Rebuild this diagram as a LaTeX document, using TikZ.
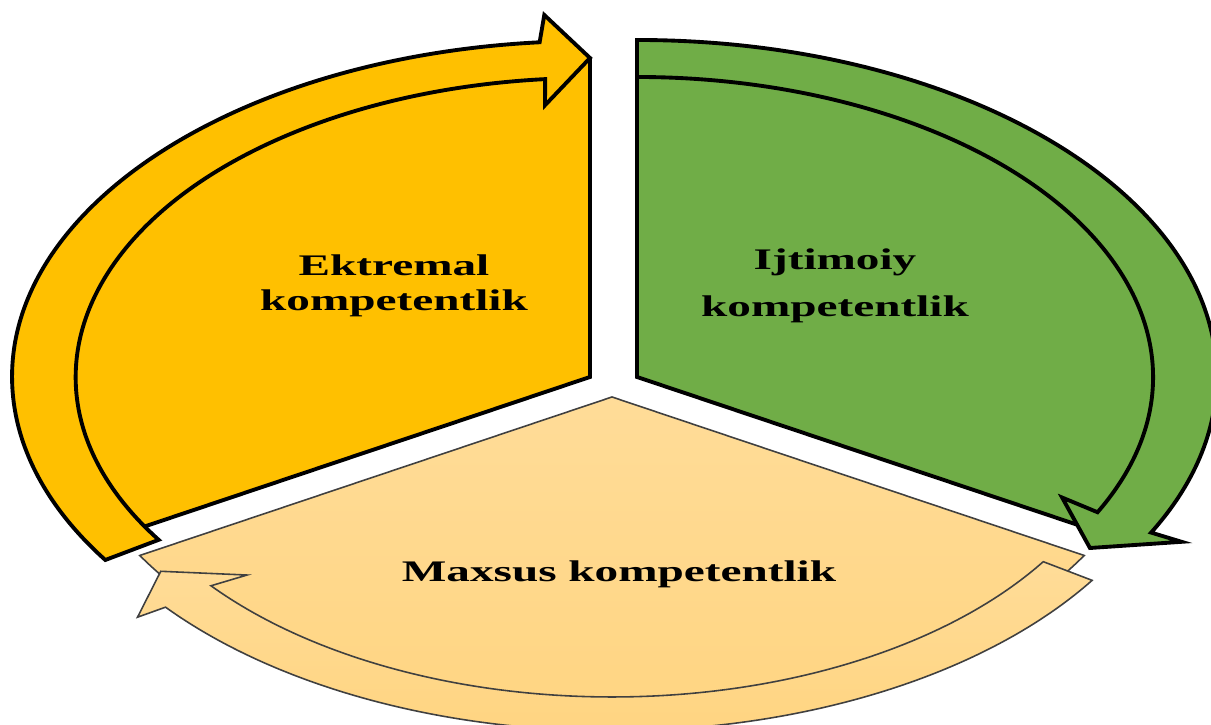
\documentclass[tikz,border=0pt]{standalone}
\usepackage{fontspec}
\newfontfamily\cyclefont{Liberation Serif}[FakeStretch=1.58]
\usepackage{tikz}
\usetikzlibrary{positioning}
\definecolor{ekgold}{HTML}{FFC000}
\definecolor{ijgreen}{HTML}{70AD47}
\definecolor{mxtop}{HTML}{FFDC98}
\definecolor{mxbottom}{HTML}{FFD47F}

\begin{document}
\begin{tikzpicture}[x=0.01cm,y=0.01cm,
  thickpart/.style={draw=black,line width=1.1pt},
  thinpart/.style={draw=black!75,line width=0.45pt,top color=mxtop,bottom color=mxbottom},
  every node/.style={font=\cyclefont\bfseries\fontsize{8.5}{10}\selectfont,align=center,inner sep=0pt}]
\useasboundingbox (0,0) rectangle (1211,725);
\coordinate (yapex) at (590,348);
\coordinate (gapex) at (637,348);
\coordinate (lapex) at (612,328);

% ektremal
\begin{scope}[shift={(yapex)},xscale=1.72]
  \draw[thickpart,fill=ekgold] (0,0) -- (210:317) arc[start angle=210,end angle=90,radius=317] -- cycle;
  \draw[thickpart,fill=ekgold] (213:299) arc[start angle=213,end angle=95,radius=299]
    -- (95.5:273) -- (90:319) -- (94.2:363) -- (95:336)
    arc[start angle=95,end angle=213,radius=336] -- cycle;
\end{scope}

% ijtimoiy
\begin{scope}[shift={(gapex)},xscale=1.72]
  \draw[thickpart,fill=ijgreen] (0,0) -- (90:317) arc[start angle=90,end angle=-30,radius=317] -- cycle;
  \draw[thickpart,fill=ijgreen] (90:337) arc[start angle=90,end angle=-27.5,radius=337]
    -- (-27.5:357) -- (-33:314) -- (-26:275) -- (-26.8:300)
    arc[start angle=-26.8,end angle=90,radius=300] -- cycle;
\end{scope}

% maxsus
\begin{scope}[shift={(lapex)},xscale=1.72]
  \draw[thinpart] (0,0) -- (330:317) arc[start angle=330,end angle=210,radius=317] -- cycle;
  \draw[thinpart] (326.7:300) arc[start angle=326.7,end angle=219,radius=300]
    -- (220:277) -- (213.6:315) -- (218.6:353) -- (219:334)
    arc[start angle=219,end angle=326.7,radius=334] -- cycle;
\end{scope}

\node (ektremal) at (394,439) {Ektremal\\kompetentlik};
\node (ijtimoiy) at (835,439) {Ijtimoiy\\[3.4pt]kompetentlik};
\node[anchor=base] (maxsus) at (619,143) {Maxsus kompetentlik};
\end{tikzpicture}
\end{document}
